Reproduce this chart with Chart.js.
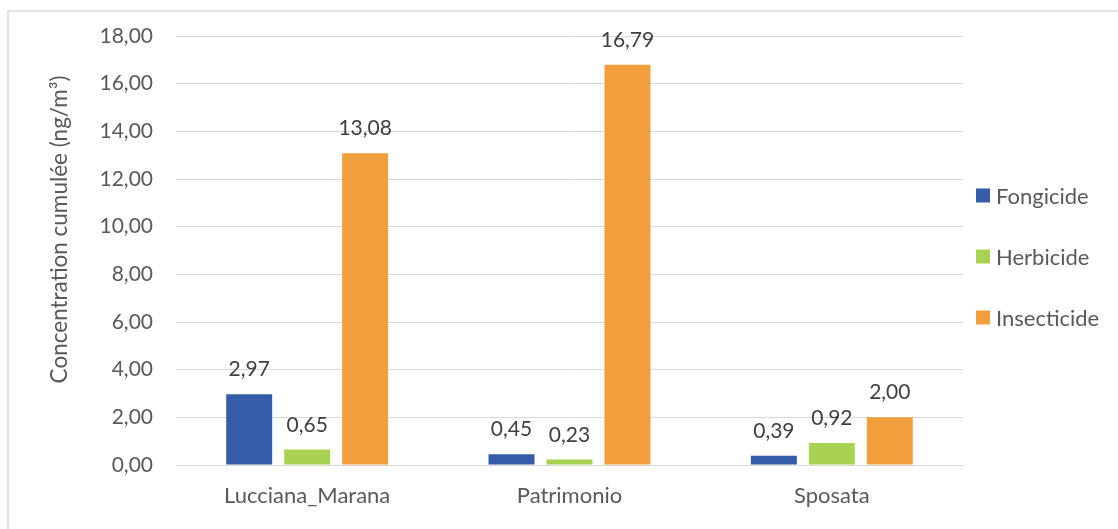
<!DOCTYPE html>
<html lang="fr">
<head>
<meta charset="utf-8">
<title>Concentration cumulée par site</title>
<script src="https://cdn.jsdelivr.net/npm/chart.js@4/dist/chart.umd.min.js"></script>
<style>
  html, body { margin: 0; padding: 0; background: #ffffff; }
  #wrap { width: 1118px; height: 529px; }
</style>
</head>
<body>
<div id="wrap"><canvas id="chart" width="1118" height="529"></canvas></div>
<script>
// Sites (categories)
const sites = ['Lucciana_Marana', 'Patrimonio', 'Sposata'];

// Cumulated concentration per pesticide family (ng/m³)
const fongicide   = [2.97, 0.45, 0.39];
const herbicide   = [0.65, 0.23, 0.92];
const insecticide = [13.08, 16.79, 2.00];

// Value axis
const yMin = 0;
const yMax = 18;
const yStep = 2;
const yTitle = 'Concentration cumulée (ng/m³)';

const FONT = 'Lato, "Open Sans", "Liberation Sans", sans-serif';
const TEXT_GREY = '#595959';
const LABEL_GREY = '#404040';
const GRID = '#d9d9d9';

const frFmt = v => Number(v).toFixed(2).replace('.', ',');

// White background plus the frame line on the left and top edges
const framePlugin = {
  id: 'frame',
  beforeDraw(chart) {
    const ctx = chart.ctx;
    ctx.save();
    ctx.fillStyle = '#ffffff';
    ctx.fillRect(0, 0, chart.width, chart.height);
    ctx.strokeStyle = '#d9d9d9';
    ctx.lineWidth = 1.5;
    ctx.beginPath();
    ctx.moveTo(8, chart.height + 2);
    ctx.lineTo(8, 11);
    ctx.lineTo(chart.width + 2, 11);
    ctx.stroke();
    ctx.restore();
  }
};

// Value written above every bar
const valueLabelPlugin = {
  id: 'valueLabels',
  afterDatasetsDraw(chart) {
    const ctx = chart.ctx;
    ctx.save();
    ctx.font = '21px ' + FONT;
    ctx.fillStyle = LABEL_GREY;
    ctx.textAlign = 'center';
    ctx.textBaseline = 'alphabetic';
    chart.data.datasets.forEach((ds, di) => {
      const meta = chart.getDatasetMeta(di);
      meta.data.forEach((bar, i) => {
        ctx.fillText(frFmt(ds.data[i]), bar.x, bar.y - 18);
      });
    });
    ctx.restore();
  }
};

// Vertical axis title, set a little above the plot centre
const yTitlePlugin = {
  id: 'yTitle',
  afterDraw(chart) {
    const ctx = chart.ctx;
    const area = chart.chartArea;
    ctx.save();
    ctx.translate(60, (area.top + area.bottom) / 2 - 21);
    ctx.rotate(-Math.PI / 2);
    ctx.font = '22.5px ' + FONT;
    ctx.fillStyle = TEXT_GREY;
    ctx.textAlign = 'center';
    ctx.textBaseline = 'middle';
    ctx.fillText(yTitle, 0, 0);
    ctx.restore();
  }
};

// Legend column at the right of the plot
const sideLegendPlugin = {
  id: 'sideLegend',
  afterDraw(chart) {
    const ctx = chart.ctx;
    const area = chart.chartArea;
    const x = area.right + 13;
    const gap = 61;
    const n = chart.data.datasets.length;
    const midY = (area.top + area.bottom) / 2 + 6;
    const startY = midY - gap * (n - 1) / 2;
    ctx.save();
    ctx.font = '22px ' + FONT;
    ctx.textAlign = 'left';
    ctx.textBaseline = 'middle';
    chart.data.datasets.forEach((ds, i) => {
      const cy = startY + i * gap;
      ctx.fillStyle = ds.backgroundColor;
      ctx.fillRect(x, cy - 7, 14, 14);
      ctx.fillStyle = TEXT_GREY;
      ctx.fillText(ds.label, x + 20, cy + 1);
    });
    ctx.restore();
  }
};

new Chart(document.getElementById('chart'), {
  type: 'bar',
  data: {
    labels: sites,
    datasets: [
      { label: 'Fongicide',   data: fongicide,   backgroundColor: '#355CA8' },
      { label: 'Herbicide',   data: herbicide,   backgroundColor: '#A9D255' },
      { label: 'Insecticide', data: insecticide, backgroundColor: '#F09F3C' }
    ]
  },
  options: {
    responsive: false,
    animation: false,
    devicePixelRatio: 1,
    layout: { padding: { top: 36, right: 155, bottom: 0, left: 0 } },
    datasets: {
      bar: { categoryPercentage: 0.663, barPercentage: 0.793 }
    },
    plugins: {
      legend: { display: false },
      tooltip: { enabled: false }
    },
    scales: {
      x: {
        grid: { display: false, drawTicks: false },
        border: { display: true, color: GRID, width: 1 },
        ticks: {
          color: TEXT_GREY,
          padding: 18,
          font: { family: FONT, size: 22 }
        },
        afterFit(scale) { scale.height = 64; }
      },
      y: {
        min: yMin,
        max: yMax,
        ticks: {
          stepSize: yStep,
          color: TEXT_GREY,
          padding: 23,
          font: { family: FONT, size: 21 },
          callback: v => frFmt(v)
        },
        grid: { color: GRID, lineWidth: 1, drawTicks: false },
        border: { display: false },
        afterFit(scale) { scale.width = 176; }
      }
    }
  },
  plugins: [framePlugin, valueLabelPlugin, yTitlePlugin, sideLegendPlugin]
});
</script>
</body>
</html>
